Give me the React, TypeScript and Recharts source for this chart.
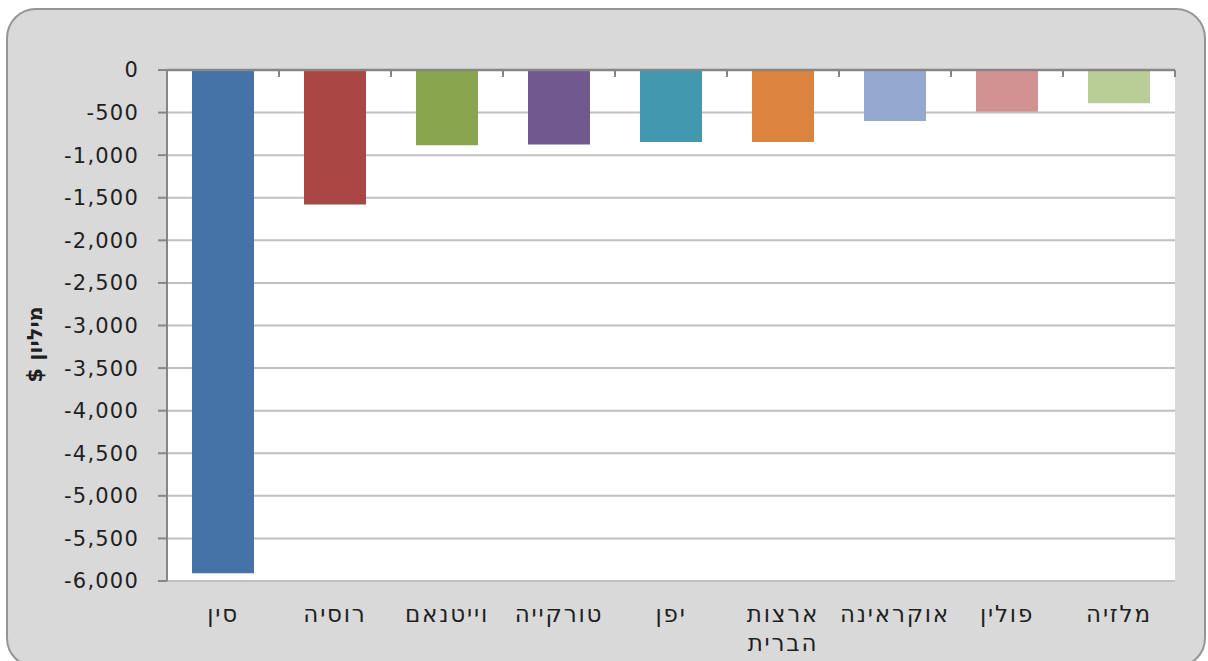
import React from 'react';
import { BarChart, Bar, XAxis, YAxis, CartesianGrid, Cell } from 'recharts';

const categories = ['סין', 'רוסיה', 'וייטנאם', 'טורקייה', 'יפן', 'ארצות הברית', 'אוקראינה', 'פולין', 'מלזיה'];
const values = [-5910, -1580, -885, -875, -845, -845, -598, -490, -390];
const colors = ['#4572A7', '#AA4643', '#89A54E', '#71588F', '#4198AF', '#DB843D', '#93A9CF', '#D19392', '#B9CD96'];
const yTicks = [0, -500, -1000, -1500, -2000, -2500, -3000, -3500, -4000, -4500, -5000, -5500, -6000];
const yLabel = 'מיליון $';

const data = categories.map((name, i) => ({ name, value: values[i] }));

const FONT = '"DejaVu Sans", Verdana, sans-serif';
const TEXT = '#1f1f1f';
const AXIS = '#868686';

const W = 1208;
const H = 661;
const M = { top: 70, right: 33, bottom: 0, left: 0 };
const Y_AXIS_W = 167;
const X_AXIS_H = 80;

const CatTick = (props: any) => {
  const { x, y, payload } = props;
  const label: string = payload.value;
  const lines = label.length > 8 ? label.split(' ') : [label];
  return (
    <g>
      {lines.map((ln, i) => (
        <text key={i} x={x} y={y + 41 + i * 29} textAnchor="middle" fill={TEXT} fontSize={23} letterSpacing={1.8} fontFamily={FONT}>
          {ln}
        </text>
      ))}
    </g>
  );
};

const EdgeTick = (props: any) => {
  const { x, y, payload, index, visibleTicksCount } = props;
  const half = payload && payload.offset ? payload.offset : 0;
  const xl = x - half;
  const xr = x + half;
  return (
    <g>
      <line x1={xl} x2={xl} y1={y} y2={y + 7} stroke={AXIS} strokeWidth={2} />
      {index === visibleTicksCount - 1 ? <line x1={xr} x2={xr} y1={y} y2={y + 7} stroke={AXIS} strokeWidth={2} /> : null}
    </g>
  );
};

const YLabel = (props: any) => {
  const vb = props.viewBox || {};
  const cx = vb.x + 35;
  const cy = vb.y + vb.height / 2 + 19;
  return (
    <text x={cx} y={cy} transform={`rotate(-90 ${cx} ${cy})`} textAnchor="middle" dominantBaseline="central" direction="rtl" fill={TEXT} fontSize={21} fontWeight="bold" fontFamily={FONT}>
      {yLabel}
    </text>
  );
};

export default function App() {
  const plotLeft = M.left + Y_AXIS_W;
  const plotTop = M.top;
  const plotW = W - plotLeft - M.right;
  const plotH = H - M.top - M.bottom - X_AXIS_H;
  return (
    <div style={{ position: 'absolute', left: 0, top: 0, width: W, height: H }}>
      <div style={{ position: 'absolute', left: 6, top: 8, width: 1200, height: 660, boxSizing: 'border-box', background: '#d9d9d9', border: '2px solid #959595', borderRadius: 30 }} />
      <div style={{ position: 'absolute', left: plotLeft, top: plotTop, width: plotW, height: plotH, background: '#ffffff' }} />
      <div style={{ position: 'absolute', left: 0, top: 0 }}>
        <BarChart width={W} height={H} data={data} margin={M}>
          <CartesianGrid xAxisId="cat" vertical={false} stroke="#c0c0c0" strokeWidth={2} fill="none" />
          <YAxis
            type="number"
            domain={[-6000, 0]}
            ticks={yTicks}
            interval={0}
            width={Y_AXIS_W}
            tickSize={9}
            tickMargin={19}
            tickFormatter={(v: number) => v.toLocaleString('en-US')}
            tick={{ fill: TEXT, fontSize: 21, fontFamily: FONT, letterSpacing: 1.2 }}
            axisLine={{ stroke: AXIS, strokeWidth: 2 }}
            tickLine={{ stroke: AXIS, strokeWidth: 2 }}
            label={<YLabel />}
          />
          <XAxis
            xAxisId="cat"
            dataKey="name"
            type="category"
            orientation="bottom"
            height={X_AXIS_H}
            axisLine={false}
            tickLine={false}
            tickSize={0}
            tickMargin={0}
            interval={0}
            tick={<CatTick />}
          />
          <Bar xAxisId="cat" dataKey="value" barSize={62} isAnimationActive={false}>
            {data.map((d, i) => (
              <Cell key={d.name} fill={colors[i]} />
            ))}
          </Bar>
          <XAxis
            xAxisId="edge"
            dataKey="name"
            type="category"
            orientation="top"
            mirror
            interval={0}
            tickSize={0}
            tickMargin={0}
            tickLine={false}
            tick={<EdgeTick />}
            axisLine={{ stroke: AXIS, strokeWidth: 2.5 }}
          />
        </BarChart>
      </div>
    </div>
  );
}
